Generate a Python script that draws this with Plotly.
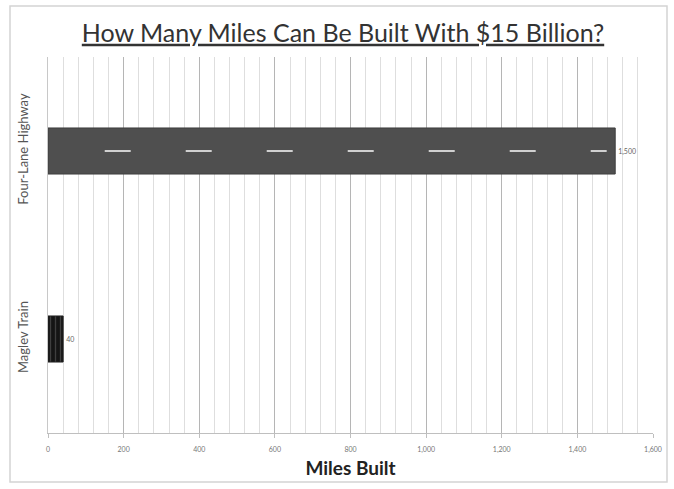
import plotly.graph_objects as go

# Miles of construction that $15 billion buys
categories = ["Maglev Train", "Four-Lane Highway"]
miles = [40, 1500]
labels = ["40", "1,500"]

tick_vals = [0, 200, 400, 600, 800, 1000, 1200, 1400, 1600]
tick_text = ["0", "200", "400", "600", "800", "1,000", "1,200", "1,400", "1,600"]

W, H = 674, 489
ML, MR, MT, MB = 48, 21, 57, 56
pw, ph = W - ML - MR, H - MT - MB

fig = go.Figure()

# Highway bar: asphalt grey
fig.add_trace(go.Bar(
    y=[categories[1]], x=[miles[1]], orientation="h", width=0.245,
    marker=dict(color="#4f4f4f", line=dict(color="#3e3e3e", width=1)),
    text=[labels[1]], textposition="outside", cliponaxis=False,
    textfont=dict(size=7, color="#666666", family="Lato"),
    hoverinfo="skip", showlegend=False,
))

# Maglev bar: dark with vertical striping
fig.add_trace(go.Bar(
    y=[categories[0]], x=[miles[0]], orientation="h", width=0.245,
    marker=dict(color="#151515", line=dict(color="#222222", width=1),
                pattern=dict(shape="|", size=5, solidity=0.25,
                             fgcolor="#6a6a6a", bgcolor="#151515")),
    text=[labels[0]], textposition="outside", cliponaxis=False,
    textfont=dict(size=7, color="#666666", family="Lato"),
    hoverinfo="skip", showlegend=False,
))

# Lane markings along the highway bar
fig.add_trace(go.Scatter(
    x=[miles[1] * 0.1, miles[1] * 0.985], y=[categories[1], categories[1]],
    mode="lines", line=dict(color="#d0d0d0", width=2, dash="26px,55px"),
    hoverinfo="skip", showlegend=False,
))

fig.update_layout(
    width=W, height=H,
    margin=dict(l=ML, r=MR, t=MT, b=MB),
    paper_bgcolor="white", plot_bgcolor="white",
    font=dict(family="Lato", color="#444444"),
    title=dict(
        text="<u>How Many Miles Can Be Built With $15 Billion?</u>",
        x=343 / W, xanchor="center", xref="container", y=1 - 33 / H, yanchor="middle",
        font=dict(size=25, color="#333333", family="Lato"),
    ),
    bargap=0.5,
    shapes=[dict(
        type="rect", xref="paper", yref="paper",
        x0=(10 - ML) / pw, x1=(667 - ML) / pw,
        y0=1 - (482 - MT) / ph, y1=1 + (MT - 6) / ph,
        line=dict(color="#d4d4d4", width=1.5), fillcolor="rgba(0,0,0,0)",
        layer="below",
    )],
)

fig.update_xaxes(
    range=[0, 1600], tickvals=tick_vals, ticktext=tick_text,
    showgrid=True, gridcolor="#b5b5b5", gridwidth=1,
    minor=dict(dtick=40, tick0=0, showgrid=True, gridcolor="#dedede", gridwidth=1),
    showline=True, linecolor="#bfbfbf", linewidth=1,
    ticks="outside", ticklen=4, tickcolor="#bfbfbf",
    tickfont=dict(size=7, color="#777777", family="Lato"),
    ticklabelstandoff=6,
    zeroline=False,
    title=dict(text="<b>Miles Built</b>", font=dict(size=19, color="#222222", family="Lato"),
               standoff=8),
)

fig.update_yaxes(
    categoryorder="array", categoryarray=categories,
    showgrid=False, showline=True, linecolor="#c8c8c8", linewidth=1,
    ticks="", tickangle=-90,
    tickfont=dict(size=13, color="#555555", family="Lato"),
    ticklabelstandoff=14,
)

fig.write_html("out.html")
